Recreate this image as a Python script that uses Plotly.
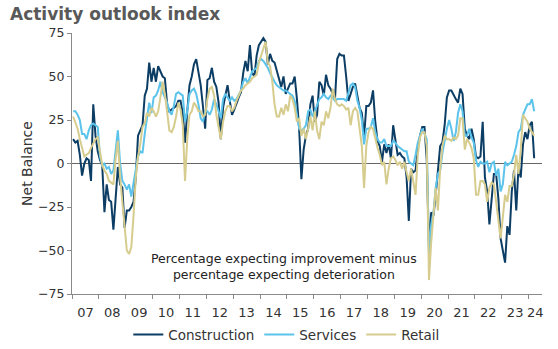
import plotly.graph_objects as go

start_year = 2007

construction = [
    14, 12, 13, 5, -7, 0, 3, 2, -10, 34, 16, 7,            # 2007
    2, -1, -28, -12, -21, -22, -38, -20, -2, -12, -14, -37,  # 2008
    -27, -27, -25, -22, -8, 16, 19, 22, 39, 43, 58, 47,      # 2009
    55, 47, 56, 53, 50, 49, 34, 30, 31, 32, 33, 36,          # 2010
    36, 29, 12, 30, 45, 50, 57, 60, 52, 45, 33, 20,          # 2011
    48, 49, 55, 47, 44, 35, 14, 32, 39, 45, 36, 28,          # 2012
    31, 35, 38, 41, 52, 59, 53, 68, 52, 50, 62, 68,          # 2013
    70, 72, 70, 57, 63, 59, 58, 53, 48, 44, 50, 40,          # 2014
    43, 46, 46, 50, 37, 20, -9, 8, 16, 20, 34, 39,           # 2015
    24, 28, 47, 45, 39, 51, 45, 43, 40, 37, 60, 63,          # 2016
    62, 62, 50, 36, 40, 44, 46, 39, 32, 29, 15, 33,          # 2017
    33, 35, 42, 24, 13, 10, 1, 11, 6, 11, 3, 22,             # 2018
    14, 5, 6, 4, 3, -8, -33, -3, -5, -4, 8, 16,              # 2019
    21, 21, 2, -48, -28, -30, -18, -4, 10, 12, 22, 38,       # 2020
    42, 42, 39, 37, 35, 43, 40, 20, 16, 14, 20, 14,          # 2021
    4, 3, 4, 24, -8, -16, -35, -18, -6, -6, -20, -43,        # 2022
    -50, -57, -36, -41, -16, -4, -27, -2, -8, 11, 18, 14,    # 2023
    22, 24, 3,                                               # 2024
]

services = [
    30, 30, 28, 25, 17, 17, 14, 19, 22, 23, 22, 21,
    4, -1, 0, -3, -2, -6, -4, 7, 19, 0, -10, -12,
    -15, -12, -19, -11, -4, 4, 7, 6, 17, 27, 35, 29,
    38, 39, 42, 47, 41, 38, 35, 30, 28, 33, 40, 41,
    40, 39, 24, 30, 40, 42, 43, 40, 34, 26, 24, 30,
    30, 28, 31, 37, 34, 30, 26, 37, 40, 38, 36, 38,
    36, 37, 40, 42, 47, 49, 46, 49, 53, 54, 55, 59,
    60, 59, 57, 55, 52, 49, 47, 45, 44, 43, 42, 42,
    41, 40, 39, 36, 28, 20, 19, 20, 22, 30, 31, 27,
    30, 33, 37, 38, 40, 38, 37, 39, 38, 36, 37, 37,
    37, 37, 36, 41, 45, 46, 44, 36, 32, 25, 11, 20,
    20, 21, 26, 18, 14, 12, 12, 14, 10, 10, 10, 13,
    12, 10, 9, 8, 7, 7, 1, 0, -1, 5, 12, 16,
    20, 17, 14, -52, -35, -28, -14, -6, -4, 6, 14, 20,
    25, 20, 13, 18, 29, 34, 30, 16, 16, 20, 15, 12,
    2, -2, 1, 0, 0, 1, -5, 0, 1, -7, -3, -16,
    -12, 1, -1, 0, 1, 5, 10, 18, 20, 28, 31, 34,
    34, 37, 30,
]

retail = [
    27, 24, 20, 14, 8, 4, 5, 6, 9, 12, 14, 15,
    8, -1, -4, -6, -10, -11, -12, 3, 13, -8, -23, -40,
    -50, -52, -48, -30, -8, 4, 11, 21, 23, 29, 27, 32,
    30, 27, 30, 38, 47, 40, 28, 19, 18, 21, 27, 35,
    31, 22, -10, 14, 28, 30, 35, 33, 30, 30, 27, 28,
    37, 43, 44, 39, 28, 20, 14, 24, 30, 33, 33, 30,
    32, 36, 39, 42, 43, 45, 46, 47, 49, 50, 51, 58,
    62, 66, 70, 58, 56, 47, 34, 27, 27, 32, 28, 34,
    30, 39, 37, 32, 24, 26, 16, 20, 14, 20, 27, 19,
    30, 19, 14, 24, 22, 30, 26, 32, 43, 37, 34, 33,
    34, 33, 31, 32, 22, 30, 32, 30, 20, 10, -14, 10,
    18, 21, 20, 14, 9, 5, -1, 1, -12, -3, 3, 4,
    2, -1, 1, -3, 1, -5, -10, -3, -10, -18, 5, 15,
    18, 18, 10, -67, -45, -30, -14, -27, -3, 10, 16, 14,
    14, 13, 15, 14, 16, 26, 26, 8, 14, 12, 9, 3,
    -18, -18, -10, -10, -12, -22, -14, -11, -12, -22, -32, -43,
    -31, -18, -22, -13, -13, -6, 5, -6, 8, 28, 26, 24,
    20, 18, 16,
]

year_labels = ["07", "08", "09", "10", "11", "12", "13", "14", "15",
               "16", "17", "18", "19", "20", "21", "22", "23", "24"]
y_ticks = [-75, -50, -25, 0, 25, 50, 75]

series_names = ["Construction", "Services", "Retail"]
series_colors = ["#0c3d64", "#5cc3ea", "#d6cc8e"]

x_end = 2024.5
xs = [start_year + (i + 0.5) / 12 for i in range(len(construction))]

FONT = "DejaVu Sans"
TXT = "#333333"
AX = "#8a8a8a"

fig = go.Figure()
for name, vals, col in zip(series_names, [construction, services, retail], series_colors):
    fig.add_trace(go.Scatter(x=xs[:len(vals)], y=vals, mode="lines", name=name,
                             line=dict(color=col, width=2)))

# label-carrier axis (year labels centred between tick marks)
years = list(range(start_year, start_year + len(year_labels)))
label_pos = [min(y + 1, x_end) / 2 + y / 2 for y in years]
fig.add_trace(go.Scatter(x=[start_year], y=[None], xaxis="x2", showlegend=False,
                         hoverinfo="skip", mode="lines"))

fig.update_layout(
    width=558, height=349,
    margin=dict(l=72, r=16, t=33, b=55, autoexpand=False),
    paper_bgcolor="white", plot_bgcolor="white",
    font=dict(family=FONT, color=TXT, size=12),
    title=dict(text="<b>Activity outlook index</b>", xref="container", yref="container",
               x=10 / 558, xanchor="left", y=1 - 14 / 349, yanchor="middle",
               font=dict(family=FONT, size=17, color="#595959")),
    xaxis=dict(range=[start_year, x_end], tickvals=years, ticks="outside", ticklen=4,
               tickcolor=AX, showticklabels=False, showline=True, linecolor=AX,
               linewidth=1, showgrid=False, zeroline=False, fixedrange=True),
    xaxis2=dict(overlaying="x", anchor="y", side="bottom", range=[start_year, x_end],
                tickvals=label_pos, ticktext=year_labels, ticks="outside", ticklen=6,
                tickcolor="rgba(0,0,0,0)", showline=False, showgrid=False,
                zeroline=False, tickfont=dict(size=13, color=TXT)),
    yaxis=dict(range=[-75, 75], tickvals=y_ticks, ticks="outside", ticklen=4,
               tickcolor=AX, showline=True, linecolor=AX, linewidth=1,
               showgrid=False, zeroline=True, zerolinecolor="#666666",
               zerolinewidth=1, tickfont=dict(size=12.5, color=TXT),
               title=dict(text="Net Balance", font=dict(size=14, color=TXT), standoff=2)),
    legend=dict(orientation="h", x=0.457, xanchor="center", y=-0.097, yanchor="top",
                font=dict(size=13.5, color=TXT), bgcolor="rgba(0,0,0,0)",
                itemwidth=30, tracegroupgap=0),
    showlegend=True,
    annotations=[dict(text="Percentage expecting improvement minus<br>percentage expecting deterioration",
                      xref="paper", yref="paper", x=0.451, y=0.105, xanchor="center",
                      yanchor="middle", showarrow=False, align="center",
                      font=dict(size=12.5, color="#222222"))],
)

fig.write_html("out.html")
